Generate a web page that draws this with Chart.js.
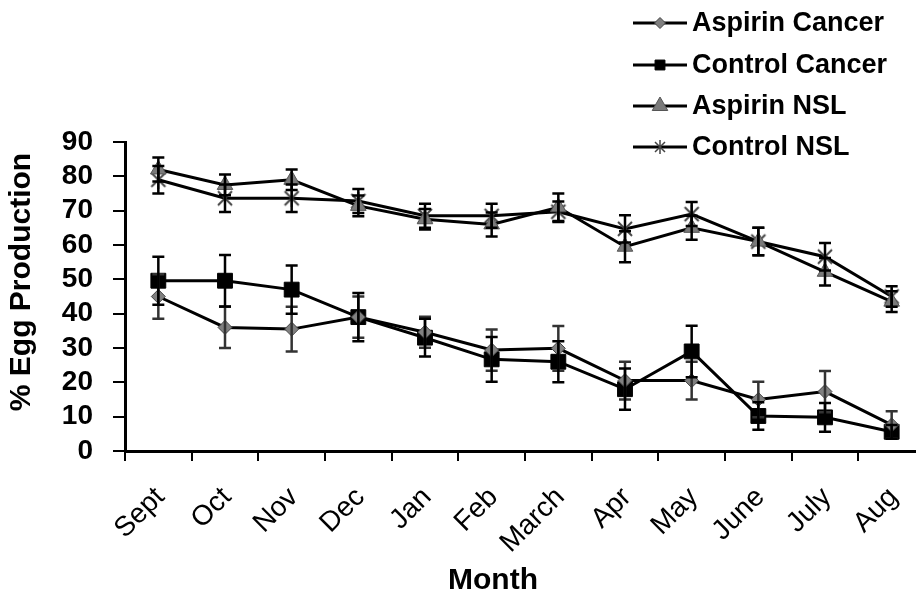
<!DOCTYPE html>
<html>
<head>
<meta charset="utf-8">
<script src="https://cdn.jsdelivr.net/npm/chart.js@4.4.1/dist/chart.umd.min.js"></script>
<style>
  html, body { margin: 0; padding: 0; background: #fff; overflow: hidden; }
  #wrap { width: 940px; height: 598px; }
</style>
</head>
<body>
<div id="wrap"><canvas id="chart" width="940" height="598"></canvas></div>
<script>
const months = ['Sept', 'Oct', 'Nov', 'Dec', 'Jan', 'Feb', 'March', 'Apr', 'May', 'June', 'July', 'Aug'];
const aspirinCancer = [45, 36, 35.5, 39, 34.6, 29.4, 29.9, 20.5, 20.5, 15, 17.3, 7.6];
const controlCancer = [49.6, 49.6, 47, 39, 33, 26.7, 26, 18, 29, 10.2, 9.8, 5.6];
const aspirinNsl = [82, 77.5, 79, 71.4, 67.5, 66, 71, 59.5, 65, 61, 52.2, 43.5];
const controlNsl = [79, 73.6, 73.6, 72.8, 68.5, 68.5, 69.7, 64.7, 69, 61, 56.6, 45];
const aspirinCancerErr = [6.5, 6, 6.5, 6, 4.5, 6, 6.5, 5.5, 5.5, 5.2, 6, 4];
const controlCancerErr = [7, 7.5, 7, 7, 5.5, 6.5, 6, 6, 7.5, 4, 4.2, 2];
const aspirinNslErr = [3.5, 3, 3, 3, 3, 3.5, 4, 4.5, 3.5, 4, 4, 3];
const controlNslErr = [4, 4, 4, 3.5, 3.5, 3.5, 3, 4, 3.5, 4, 4, 3];
const yTicks = [0, 10, 20, 30, 40, 50, 60, 70, 80, 90];

const FONT = '"Liberation Sans", Arial, sans-serif';

// asterisk marker like the spreadsheet "star" (X plus vertical bar)
function makeStar(size, lw) {
  const c = document.createElement('canvas');
  c.width = size; c.height = size;
  const g = c.getContext('2d');
  g.strokeStyle = '#444';
  g.lineWidth = lw;
  const m = 2, s = size;
  g.beginPath();
  g.moveTo(m, m); g.lineTo(s - m, s - m);
  g.moveTo(s - m, m); g.lineTo(m, s - m);
  g.moveTo(s / 2, 0); g.lineTo(s / 2, s);
  g.stroke();
  return c;
}
const starBig = makeStar(18, 2);
const starSmall = makeStar(14, 1.5);

const series = [
  { label: 'Aspirin Cancer', data: aspirinCancer, err: aspirinCancerErr, style: 'rectRot', radius: 7, fill: '#808080', border: '#444', errColor: '#333', lg: { style: 'rectRot', radius: 5.5 } },
  { label: 'Control Cancer', data: controlCancer, err: controlCancerErr, style: 'rect', radius: 10.5, fill: '#000', border: '#000', errColor: '#000', lg: { style: 'rect', radius: 7 } },
  { label: 'Aspirin NSL', data: aspirinNsl, err: aspirinNslErr, style: 'triangle', radius: 9, fill: '#7a7a7a', border: '#555', errColor: '#000', lg: { style: 'triangle', radius: 9 } },
  { label: 'Control NSL', data: controlNsl, err: controlNslErr, style: starBig, radius: 8, fill: '#555', border: '#555', errColor: '#000', lg: { style: starSmall, radius: 6 } }
];

const errorBars = {
  id: 'errorBars',
  afterDatasetsDraw(chart) {
    const ctx = chart.ctx;
    const y = chart.scales.y;
    ctx.save();
    chart.data.datasets.forEach((ds, i) => {
      const meta = chart.getDatasetMeta(i);
      ctx.strokeStyle = series[i].errColor;
      ctx.lineWidth = 2.5;
      meta.data.forEach((pt, j) => {
        const e = series[i].err[j];
        const top = y.getPixelForValue(ds.data[j] + e);
        const bot = y.getPixelForValue(ds.data[j] - e);
        ctx.beginPath();
        ctx.moveTo(pt.x, top); ctx.lineTo(pt.x, bot);
        ctx.moveTo(pt.x - 6, top); ctx.lineTo(pt.x + 6, top);
        ctx.moveTo(pt.x - 6, bot); ctx.lineTo(pt.x + 6, bot);
        ctx.stroke();
      });
    });
    ctx.restore();
  }
};

const extraText = {
  id: 'extraText',
  afterDraw(chart) {
    const ctx = chart.ctx;
    ctx.save();
    ctx.fillStyle = '#000';
    // axis titles
    ctx.font = 'bold 30px ' + FONT;
    ctx.textAlign = 'center';
    ctx.textBaseline = 'middle';
    ctx.fillText('Month', 493, 581);
    ctx.save();
    ctx.translate(22, 282);
    ctx.rotate(-Math.PI / 2);
    ctx.fillText('% Egg Production', 0, 0);
    ctx.restore();
    // legend
    const rowsY = [23, 65, 106, 147];
    ctx.font = 'bold 27px ' + FONT;
    ctx.textAlign = 'left';
    series.forEach((s, i) => {
      const yy = rowsY[i];
      ctx.strokeStyle = '#000';
      ctx.lineWidth = 3;
      ctx.beginPath();
      ctx.moveTo(633, yy); ctx.lineTo(687, yy);
      ctx.stroke();
      ctx.fillStyle = s.fill;
      ctx.strokeStyle = s.border;
      ctx.lineWidth = 1;
      Chart.helpers.drawPoint(ctx, { pointStyle: s.lg.style, radius: s.lg.radius, rotation: 0, borderWidth: 1 }, 660, yy);
      ctx.fillStyle = '#000';
      ctx.fillText(s.label, 692, yy + 1);
    });
    ctx.restore();
  }
};

new Chart(document.getElementById('chart'), {
  type: 'line',
  data: {
    labels: months,
    datasets: series.map(s => ({
      label: s.label,
      data: s.data,
      borderColor: '#000',
      borderWidth: 3,
      pointStyle: s.style,
      pointRadius: s.radius,
      pointBackgroundColor: s.fill,
      pointBorderColor: s.border,
      pointBorderWidth: 1,
      tension: 0,
      fill: false
    }))
  },
  options: {
    responsive: false,
    animation: false,
    layout: { padding: { top: 142, left: 0, right: 15, bottom: 0 } },
    plugins: { legend: { display: false }, tooltip: { enabled: false } },
    scales: {
      x: {
        offset: true,
        grid: { offset: true, drawOnChartArea: false, drawTicks: true, tickLength: 10, color: '#000', lineWidth: 2 },
        border: { display: true, color: '#000', width: 3 },
        ticks: { color: '#000', font: { family: FONT, size: 28 }, maxRotation: 45, minRotation: 45, padding: 20, labelOffset: 2, autoSkip: false },
        afterFit(scale) { scale.height = 147; }
      },
      y: {
        min: 0,
        max: 90,
        afterBuildTicks(scale) { scale.ticks = yTicks.map(v => ({ value: v })); },
        grid: { drawOnChartArea: false, drawTicks: true, tickLength: 12, color: '#000', lineWidth: 2 },
        border: { display: true, color: '#000', width: 3 },
        ticks: { color: '#000', font: { family: FONT, size: 28, weight: 'bold' }, padding: 20, autoSkip: false },
        afterFit(scale) { scale.width = 125; }
      }
    }
  },
  plugins: [errorBars, extraText]
});
</script>
</body>
</html>
